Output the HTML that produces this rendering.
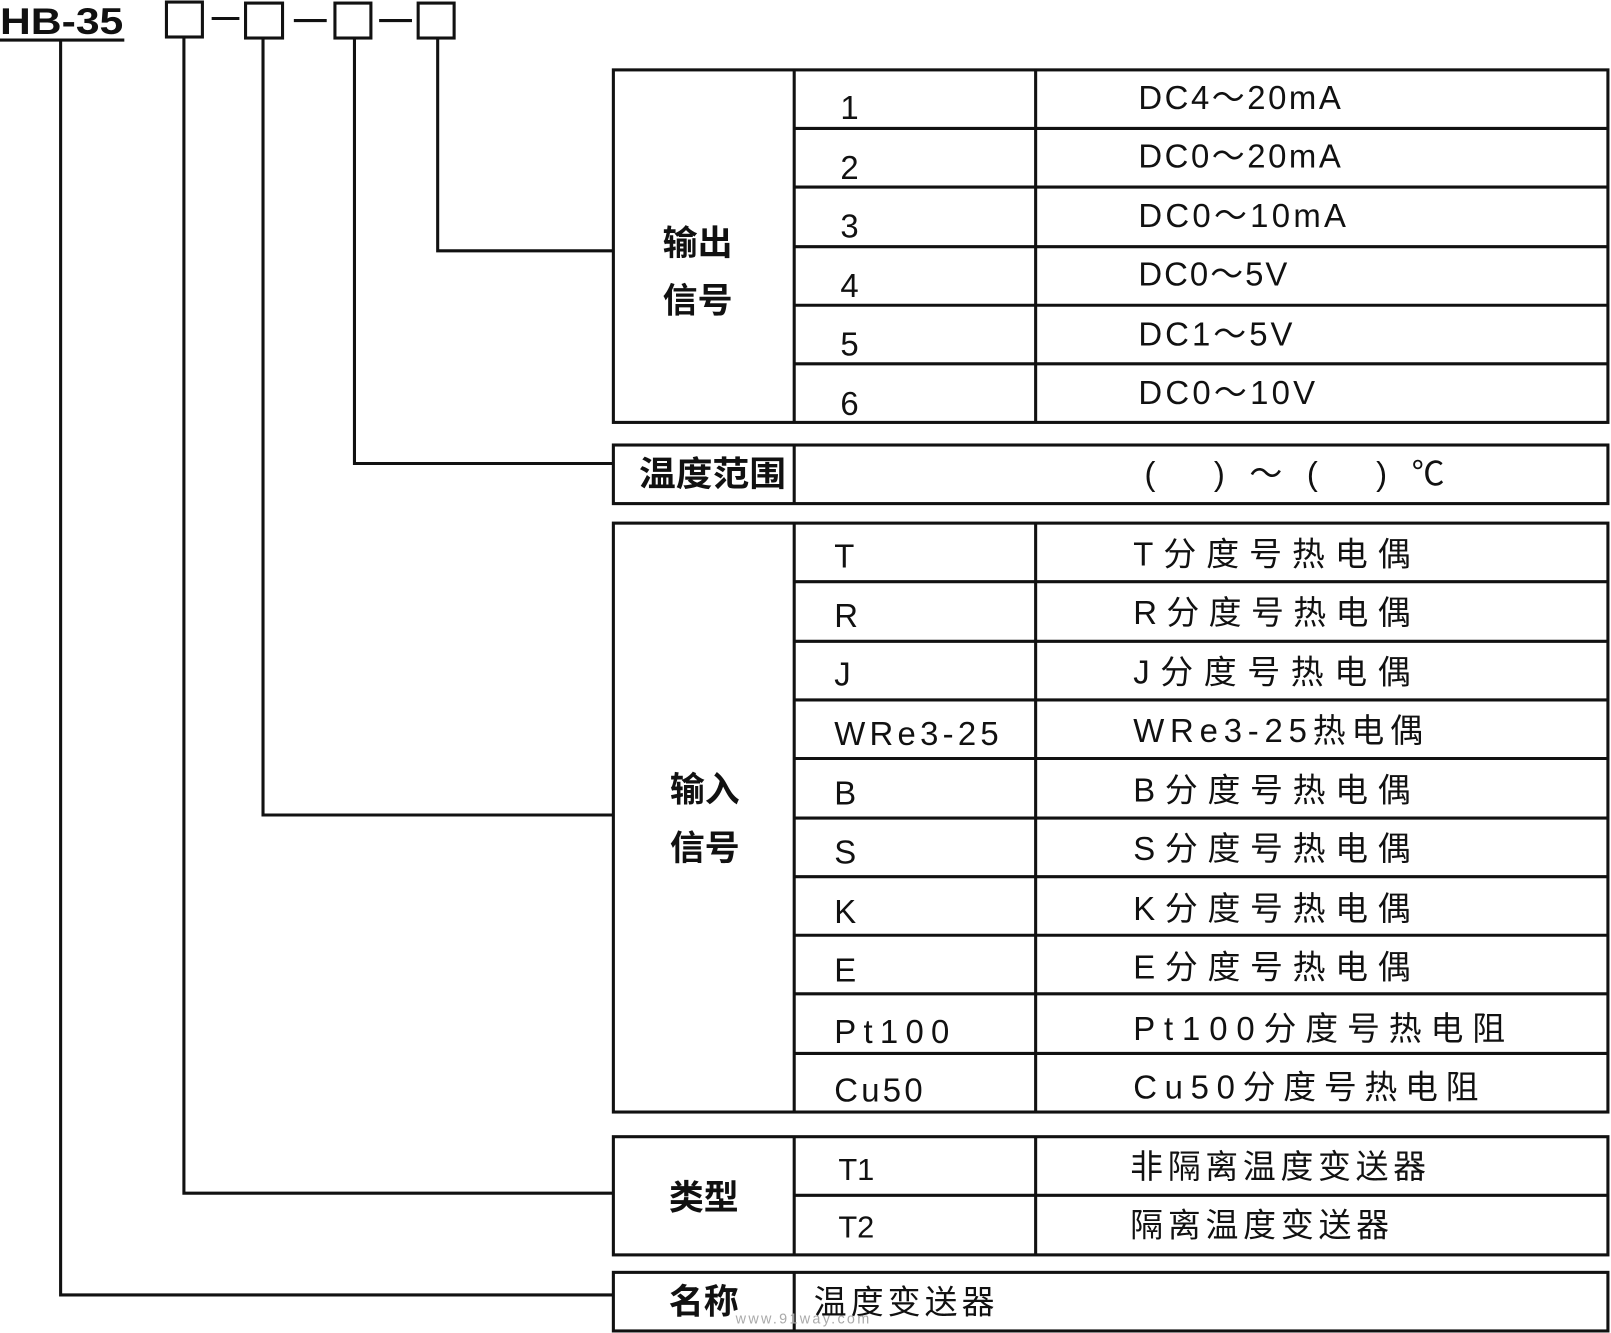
<!DOCTYPE html>
<html><head><meta charset="utf-8"><style>html,body{margin:0;padding:0;background:#fff}svg{display:block}</style></head>
<body>
<svg width="1611" height="1333" viewBox="0 0 1568 1297" preserveAspectRatio="none" xmlns="http://www.w3.org/2000/svg">
<g stroke="#111" stroke-width="3" fill="none">
<line x1="0" y1="39" x2="121" y2="39"/>
<rect x="162" y="2" width="35" height="34"/><rect x="239" y="3" width="36" height="34"/>
<rect x="326" y="3" width="35" height="34"/><rect x="407" y="3" width="35" height="34"/>
<line x1="206" y1="18" x2="233" y2="18"/><line x1="286" y1="20" x2="318" y2="20"/><line x1="369" y1="20" x2="401" y2="20"/>
<polyline points="426,37 426,244 597,244"/>
<polyline points="345,37 345,451 597,451"/>
<polyline points="256,37 256,793 597,793"/>
<polyline points="179,36 179,1161 597,1161"/>
<polyline points="59,40 59,1260 597,1260"/>
<rect x="597" y="68" width="968" height="343"/>
<line x1="773" y1="68" x2="773" y2="411"/><line x1="1008" y1="68" x2="1008" y2="411"/>
<line x1="773" y1="125" x2="1565" y2="125"/><line x1="773" y1="182" x2="1565" y2="182"/>
<line x1="773" y1="240" x2="1565" y2="240"/><line x1="773" y1="297" x2="1565" y2="297"/>
<line x1="773" y1="354" x2="1565" y2="354"/>
<rect x="597" y="433" width="968" height="57"/><line x1="773" y1="433" x2="773" y2="490"/>
<rect x="597" y="509" width="968" height="573"/>
<line x1="773" y1="509" x2="773" y2="1082"/><line x1="1008" y1="509" x2="1008" y2="1082"/>
<line x1="773" y1="566" x2="1565" y2="566"/><line x1="773" y1="624" x2="1565" y2="624"/>
<line x1="773" y1="681" x2="1565" y2="681"/><line x1="773" y1="738" x2="1565" y2="738"/>
<line x1="773" y1="796" x2="1565" y2="796"/><line x1="773" y1="853" x2="1565" y2="853"/>
<line x1="773" y1="910" x2="1565" y2="910"/><line x1="773" y1="967" x2="1565" y2="967"/>
<line x1="773" y1="1025" x2="1565" y2="1025"/>
<rect x="597" y="1106" width="968" height="115"/>
<line x1="773" y1="1106" x2="773" y2="1221"/><line x1="1008" y1="1106" x2="1008" y2="1221"/>
<line x1="773" y1="1163" x2="1565" y2="1163"/>
<rect x="597" y="1238" width="968" height="57"/><line x1="773" y1="1238" x2="773" y2="1295"/>
</g>
<g font-family="Liberation Sans, 'Noto Sans CJK SC', sans-serif" fill="#111" font-size="32">
<text x="0" y="33" font-weight="bold" font-size="36" textLength="120" lengthAdjust="spacingAndGlyphs">HB-35</text>
<g font-weight="bold" font-size="34">
<text x="645" y="248">输出</text><text x="645" y="304">信号</text>
<text x="622" y="473" textLength="143" lengthAdjust="spacingAndGlyphs">温度范围</text>
<text x="652" y="780">输入</text><text x="652" y="837">信号</text>
<text x="651" y="1177">类型</text><text x="651" y="1278">名称</text>
</g>
<text x="818" y="116">1</text><text x="818" y="174">2</text><text x="818" y="231">3</text>
<text x="818" y="289">4</text><text x="818" y="346">5</text><text x="818" y="404">6</text>
<text x="1108" y="106" textLength="197" lengthAdjust="spacing">DC4～20mA</text>
<text x="1108" y="163" textLength="197" lengthAdjust="spacing">DC0～20mA</text>
<text x="1108" y="221" textLength="202" lengthAdjust="spacing">DC0～10mA</text>
<text x="1108" y="278" textLength="145" lengthAdjust="spacing">DC0～5V</text>
<text x="1108" y="336" textLength="150" lengthAdjust="spacing">DC1～5V</text>
<text x="1108" y="393" textLength="172" lengthAdjust="spacing">DC0～10V</text>
<text x="1114" y="472" textLength="292" lengthAdjust="spacing">(      )～(     )℃</text>
<text x="812" y="552">T</text><text x="812" y="610">R</text><text x="812" y="667">J</text>
<text x="812" y="725" textLength="160" lengthAdjust="spacing">WRe3-25</text>
<text x="812" y="783">B</text><text x="812" y="840">S</text><text x="812" y="898">K</text>
<text x="812" y="955">E</text>
<text x="812" y="1015" textLength="112" lengthAdjust="spacing">Pt100</text>
<text x="812" y="1072" textLength="86" lengthAdjust="spacing">Cu50</text>
<text x="1103" y="550" textLength="270" lengthAdjust="spacing">T分度号热电偶</text>
<text x="1103" y="607" textLength="270" lengthAdjust="spacing">R分度号热电偶</text>
<text x="1103" y="665" textLength="270" lengthAdjust="spacing">J分度号热电偶</text>
<text x="1103" y="722" textLength="282" lengthAdjust="spacing">WRe3-25热电偶</text>
<text x="1103" y="780" textLength="270" lengthAdjust="spacing">B分度号热电偶</text>
<text x="1103" y="837" textLength="270" lengthAdjust="spacing">S分度号热电偶</text>
<text x="1103" y="895" textLength="270" lengthAdjust="spacing">K分度号热电偶</text>
<text x="1103" y="952" textLength="270" lengthAdjust="spacing">E分度号热电偶</text>
<text x="1103" y="1012" textLength="362" lengthAdjust="spacing">Pt100分度号热电阻</text>
<text x="1103" y="1069" textLength="336" lengthAdjust="spacing">Cu50分度号热电阻</text>
<text x="816" y="1148" font-size="30">T1</text><text x="816" y="1204" font-size="30">T2</text>
<text x="1100" y="1146" textLength="288" lengthAdjust="spacing">非隔离温度变送器</text>
<text x="1100" y="1203" textLength="252" lengthAdjust="spacing">隔离温度变送器</text>
<text x="792" y="1278" textLength="176" lengthAdjust="spacing">温度变送器</text>
<text x="716" y="1288" font-size="14" fill="#aaa" textLength="130" lengthAdjust="spacing">www.91way.com</text>
</g>
</svg>
</body></html>
